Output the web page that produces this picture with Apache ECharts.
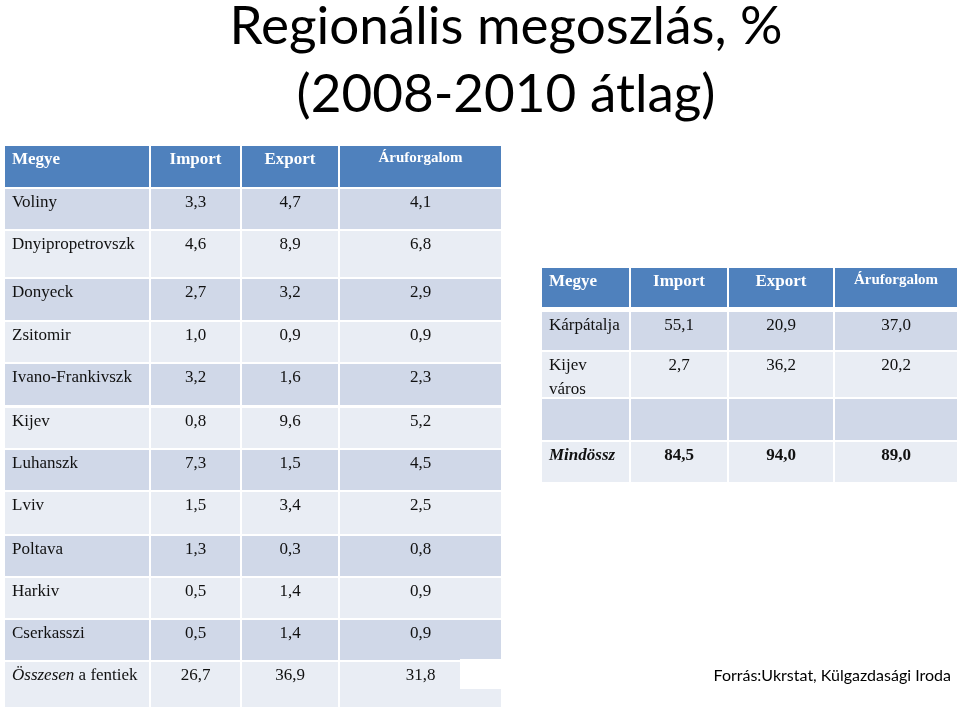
<!DOCTYPE html>
<html><head><meta charset="utf-8">
<script src="https://cdn.jsdelivr.net/npm/echarts@6/dist/echarts.min.js"></script>
<style>html,body{margin:0;padding:0;background:#fff}#c{width:960px;height:711px}</style>
</head><body><div id="c"></div>
<script>
// ---- DATA ----
const headers = ['Megye', 'Import', 'Export', 'Áruforgalom'];
const leftRegions = ['Voliny', 'Dnyipropetrovszk', 'Donyeck', 'Zsitomir', 'Ivano-Frankivszk', 'Kijev', 'Luhanszk', 'Lviv', 'Poltava', 'Harkiv', 'Cserkasszi', '{i|Összesen} a fentiek'];
const leftImport = [3.3, 4.6, 2.7, 1.0, 3.2, 0.8, 7.3, 1.5, 1.3, 0.5, 0.5, 26.7];
const leftExport = [4.7, 8.9, 3.2, 0.9, 1.6, 9.6, 1.5, 3.4, 0.3, 1.4, 1.4, 36.9];
const leftTrade  = [4.1, 6.8, 2.9, 0.9, 2.3, 5.2, 4.5, 2.5, 0.8, 0.9, 0.9, 31.8];
const rightRegions = ['Kárpátalja', 'Kijev\nváros', '', '{bi|Mindössz}'];
const rightImport = [55.1, 2.7, null, 84.5];
const rightExport = [20.9, 36.2, null, 94.0];
const rightTrade  = [37.0, 20.2, null, 89.0];
const titleText = 'Regionális megoszlás, %\n(2008-2010 átlag)';
const sourceText = 'Forrás:Ukrstat, Külgazdasági Iroda';

// ---- LAYOUT ----
const layout = [
  { colStart: [5, 151, 242, 340], colEnd: [149, 240, 338, 501], firstX: 12,
    rowStart: [146, 189, 231, 279, 322, 364, 408, 450, 492, 536, 578, 620, 662],
    rowEnd:   [187, 229, 277, 320, 362, 405, 448, 490, 534, 576, 618, 660, 707], boldLast: false },
  { colStart: [542, 631, 729, 835], colEnd: [629, 727, 833, 957], firstX: 549,
    rowStart: [268, 312, 352, 399, 442],
    rowEnd:   [307, 350, 397, 440, 482], boldLast: true }
];
const fmt = v => (v === null || v === undefined) ? '' : v.toFixed(1).replace('.', ',');

const tables = [
  { regions: leftRegions, cols: [leftImport, leftExport, leftTrade] },
  { regions: rightRegions, cols: [rightImport, rightExport, rightTrade] }
];
const cells = [];
tables.forEach((tb, t) => {
  headers.forEach((h, c) => cells.push({ t, r: 0, c, text: h }));
  tb.regions.forEach((name, i) => {
    cells.push({ t, r: i + 1, c: 0, text: name });
    tb.cols.forEach((arr, k) => cells.push({ t, r: i + 1, c: k + 1, text: fmt(arr[i]) }));
  });
});

const chart = echarts.init(document.getElementById('c'), null, { renderer: 'canvas' });
const SERIF = '"Liberation Serif", "Times New Roman", serif';
chart.setOption({
  backgroundColor: '#ffffff',
  animation: false,
  title: [
    { text: titleText, left: 501, top: -12, textAlign: 'center',
      textStyle: { fontFamily: 'Lato', fontWeight: 'normal', fontSize: 53, lineHeight: 68, color: '#000' } },
    { text: sourceText, right: 4, top: 663,
      textStyle: { fontFamily: 'Lato', fontWeight: 'normal', fontSize: 16, color: '#000' } }
  ],
  grid: { left: 0, right: 0, top: 0, bottom: 0 },
  xAxis: { type: 'value', min: 0, max: 960, show: false },
  yAxis: { type: 'value', min: 0, max: 711, inverse: true, show: false },
  graphic: [],
  series: [{
    type: 'custom',
    coordinateSystem: 'cartesian2d',
    data: cells.map(d => [d.t, d.r, d.c]),
    renderItem: function (params, api) {
      const d = cells[params.dataIndex];
      const L = layout[d.t];
      const p0 = api.coord([L.colStart[d.c], L.rowStart[d.r]]);
      const p1 = api.coord([L.colEnd[d.c], L.rowEnd[d.r]]);
      const header = d.r === 0;
      const lastRow = d.r === L.rowStart.length - 1;
      const fill = header ? '#4F81BD' : (d.r % 2 === 1 ? '#D0D8E8' : '#E9EDF4');
      const children = [{ type: 'rect', shape: { x: p0[0], y: p0[1], width: p1[0] - p0[0], height: p1[1] - p0[1] }, style: { fill } }];
      if (d.text) {
        const tx = d.c === 0 ? p0[0] + (L.firstX - L.colStart[0]) : (p0[0] + p1[0]) / 2;
        const small = header && d.c === 3;
        const bold = header || (L.boldLast && lastRow);
        children.push({
          type: 'text',
          style: {
            text: d.text, x: tx, y: p0[1] + (small ? 0 : 2),
            align: d.c === 0 ? 'left' : 'center', verticalAlign: 'top',
            fill: header ? '#ffffff' : '#111111',
            font: (bold ? 'bold ' : '') + (small ? 15 : 17) + 'px ' + SERIF,
            lineHeight: 24,
            rich: {
              i: { fontStyle: 'italic', fontFamily: SERIF, fontSize: 17, lineHeight: 24, fill: '#111' },
              bi: { fontStyle: 'italic', fontWeight: 'bold', fontFamily: SERIF, fontSize: 17, lineHeight: 24, fill: '#111' }
            }
          }
        });
      }
      return { type: 'group', children };
    },
    z: 2
  }]
});
// white patch over the last cell of the left table
const a = chart.convertToPixel({ gridIndex: 0 }, [460, 659]);
const b = chart.convertToPixel({ gridIndex: 0 }, [502, 689]);
chart.setOption({ graphic: [{ type: 'rect', shape: { x: a[0], y: a[1], width: b[0] - a[0], height: b[1] - a[1] }, style: { fill: '#ffffff' }, z: 10 }] });
</script></body></html>
